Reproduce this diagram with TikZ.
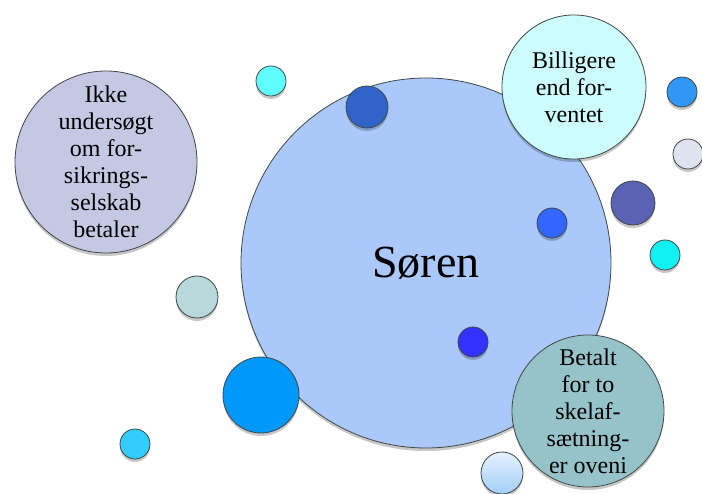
\documentclass[tikz,border=0pt]{standalone}
\usepackage{fontspec}
\setmainfont{Liberation Serif}
\usetikzlibrary{shadows}
\definecolor{bigc}{HTML}{ABC8FA}
\definecolor{lavc}{HTML}{C5C8E3}
\definecolor{billc}{HTML}{CCFCFC}
\definecolor{betc}{HTML}{96C3CA}
\definecolor{cyanA}{HTML}{60FFFF}
\definecolor{dblue}{HTML}{3064C8}
\definecolor{rblue}{HTML}{3097F5}
\definecolor{greyb}{HTML}{DDE4F0}
\definecolor{slate}{HTML}{5A62B4}
\definecolor{mblue}{HTML}{3366FF}
\definecolor{cyanB}{HTML}{10F0F0}
\definecolor{deepb}{HTML}{3333FF}
\definecolor{gtop}{HTML}{E4F2FD}
\definecolor{gbot}{HTML}{A4CEF8}
\definecolor{greyt}{HTML}{B8D8DC}
\definecolor{brightb}{HTML}{0098FA}
\definecolor{skyb}{HTML}{33CCFF}
\definecolor{edgec}{HTML}{404848}
\tikzset{
  bub/.style={circle, draw=edgec, line width=0.8pt, inner sep=0pt,
    drop shadow={shadow xshift=0pt, shadow yshift=-3pt, opacity=0.22, fill=black}},
  lbl/.style={bub, align=center, font=\fontsize{24}{27}\selectfont, text=black}
}
\begin{document}
\begin{tikzpicture}[x=1pt,y=-1pt]
\useasboundingbox (0,0) rectangle (702,494);
% main circle
\node[bub, fill=bigc, minimum size=370pt, font=\fontsize{46}{50}\selectfont] (soren) at (426,263) {Søren};
% small bubbles
\node[bub, fill=cyanA, minimum size=30pt] (c1) at (271,81) {};
\node[bub, fill=dblue, minimum size=42pt] (c2) at (367,107) {};
\node[bub, fill=rblue, minimum size=30pt] (c3) at (682,92) {};
\node[bub, fill=greyb, minimum size=30pt] (c4) at (688,154) {};
\node[bub, fill=slate, minimum size=44pt] (c5) at (633,203) {};
\node[bub, fill=mblue, minimum size=30pt] (c6) at (552,223) {};
\node[bub, fill=cyanB, minimum size=30pt] (c7) at (665,255) {};
\node[bub, fill=deepb, minimum size=30pt] (c8) at (473,342) {};
\node[bub, top color=gtop, bottom color=gbot, minimum size=42pt] (c9) at (502,473) {};
\node[bub, fill=greyt, minimum size=42pt] (c10) at (197,297) {};
\node[bub, fill=brightb, minimum size=76pt] (c11) at (261,395) {};
\node[bub, fill=skyb, minimum size=30pt] (c12) at (135,444) {};
% labelled bubbles
\node[lbl, fill=lavc, minimum size=182pt] (ikke) at (106,162) {Ikke\\undersøgt\\om for-\\sikrings-\\selskab\\betaler};
\node[lbl, fill=billc, minimum size=144pt] (bill) at (574,87) {Billigere\\end for-\\ventet};
\node[lbl, fill=betc, minimum size=152pt] (bet) at (588,411) {Betalt\\for to\\skelaf-\\sætning-\\er oveni};
\end{tikzpicture}
\end{document}
